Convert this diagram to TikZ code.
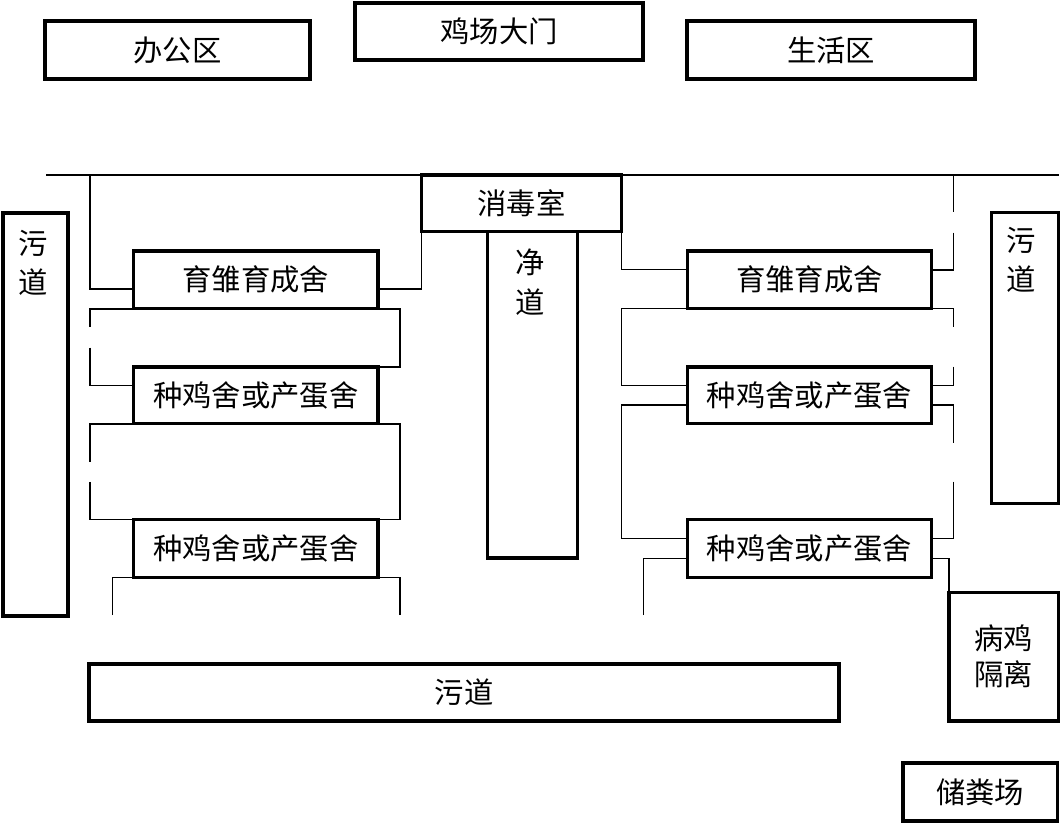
\documentclass[tikz,border=0pt]{standalone}
\usepackage{fontspec}
\newfontfamily\cjkfont{Noto Sans CJK SC}
\usetikzlibrary{calc}
\begin{document}
\begin{tikzpicture}[x=0.75pt,y=-0.75pt,
  box/.style={draw, line width=2.6pt, inner sep=0pt, outer sep=0pt, align=center,
    font=\cjkfont\fontsize{22}{27}\selectfont},
  area/.style n args={4}{at={({(#1+#3)/2},{(#2+#4)/2})},
    minimum width={(#3-#1)*0.75pt}, minimum height={(#4-#2)*0.75pt}},
  lbl/.style={inner sep=0pt, align=center, font=\cjkfont\fontsize{22}{29.5}\selectfont},
  wire/.style={line width=1.1pt}]
\useasboundingbox (0,0) rectangle (1061,823);

% boxes
\node[box, area={45}{21}{310}{79}] (office) {办公区};
\node[box, area={355}{3}{643}{60}] (gate) {鸡场大门};
\node[box, area={687}{21}{975}{79}] (living) {生活区};
\node[box, area={421.5}{175}{621.5}{231.5}] (disinf) {消毒室};
\node[box, area={487.5}{231.5}{577.5}{558}] (clean) {};
\node[lbl] (cleant) at (530,282) {净\\道};

\node[box, area={3}{213}{68}{616}] (lw) {};
\node[lbl] (lwt) at (33,263) {污\\道};
\node[box, area={991.5}{212.5}{1058.5}{503.5}] (rw) {};
\node[lbl] (rwt) at (1021,260) {污\\道};
\node[box, area={89}{664}{839}{721}] (bw) {污道};
\node[box, area={949}{592.5}{1058.5}{721}] (sick) {病鸡\\隔离};
\node[box, area={903}{763}{1057.5}{821}] (manure) {储粪场};

\node[box, area={133.5}{251}{378}{308.5}] (L1) {育雏育成舍};
\node[box, area={133.5}{367}{378}{423.5}] (L2) {种鸡舍或产蛋舍};
\node[box, area={133.5}{519.5}{378}{577.5}] (L3) {种鸡舍或产蛋舍};
\node[box, area={687.5}{251}{931.5}{308.5}] (R1) {育雏育成舍};
\node[box, area={687.5}{367}{931.5}{423.5}] (R2) {种鸡舍或产蛋舍};
\node[box, area={687.5}{519.5}{931.5}{577.5}] (R3) {种鸡舍或产蛋舍};

% free ends
\coordinate (TL) at (46,175);
\coordinate (TR) at (1059,175);
\coordinate (lt) at (90,175);
\coordinate (lg1a) at (90,326.7);
\coordinate (lg1b) at (90,347.7);
\coordinate (lg2a) at (90,462);
\coordinate (lg2b) at (90,482);
\coordinate (lb1) at (112.3,615);
\coordinate (lb2) at (400,615);
\coordinate (rt) at (953.3,175);
\coordinate (rg0) at (953.3,212.3);
\coordinate (rg0b) at (953.3,232.7);
\coordinate (rg1a) at (953.3,326.7);
\coordinate (rg1b) at (953.3,366.7);
\coordinate (rg2a) at (953.3,442.7);
\coordinate (rg2b) at (953.3,481.7);
\coordinate (rb1) at (643.3,615);

% connectors
\draw[wire] (TL) -- (TR);
% left
\draw[wire] (lt) |- (L1.west |- 0,289);
\draw[wire] (disinf.south west) |- (L1.east |- 0,289);
\draw[wire] (lg1a) |- (400,309) |- (L2.north east);
\draw[wire] (lg1b) |- (L2.west |- 0,385.3);
\draw[wire] (lg2a) |- (400,424) |- (L3.north east);
\draw[wire] (lg2b) |- (L3.north west);
\draw[wire] (lb1) |- (L3.south west);
\draw[wire] (lb2) |- (L3.south east);
% right
\draw[wire] (disinf.south east) |- (R1.west |- 0,269.5);
\draw[wire] (rt) -- (rg0);
\draw[wire] (rg0b) |- (R1.east |- 0,270);
\draw[wire] (rg1a) |- (621.7,308.5) |- (R2.west |- 0,385.3);
\draw[wire] (rg1b) |- (R2.east |- 0,385.3);
\draw[wire] (rg2a) |- (R2.east |- 0,405);
\draw[wire] (rg2b) |- (R3.east |- 0,538.3);
\draw[wire] (R2.west |- 0,405) -| (621.7,538.3) -- (R3.west |- 0,538.3);
\draw[wire] (rb1) |- (R3.west |- 0,558.3);
\draw[wire] (R3.east |- 0,558.3) -| (sick.north west);
\end{tikzpicture}
\end{document}
